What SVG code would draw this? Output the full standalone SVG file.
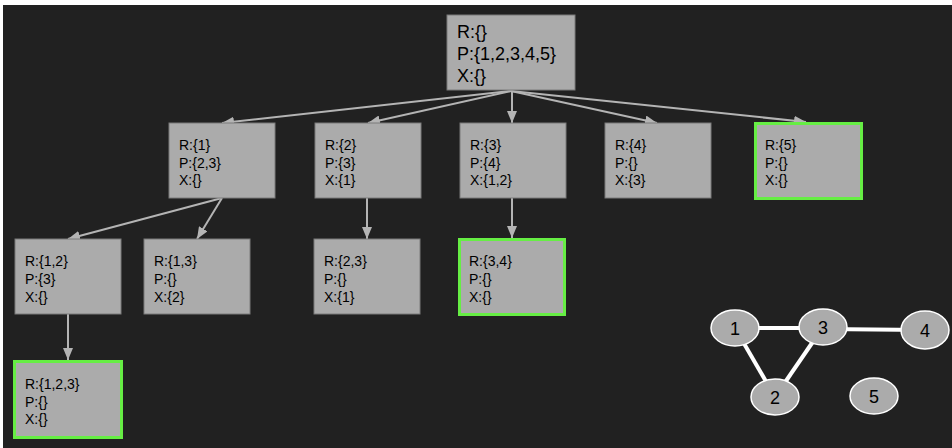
<svg xmlns="http://www.w3.org/2000/svg" width="952" height="448" viewBox="0 0 952 448">
  <style>
    .box { fill: #ababab; stroke: #7a7a7a; stroke-width: 1; }
    .hit { fill: #ababab; stroke: #66ee44; stroke-width: 3; }
    .t { font-family: "Liberation Sans", Arial, sans-serif; font-size: 14px; fill: #000; }
    .tr { font-family: "Liberation Sans", Arial, sans-serif; font-size: 18px; fill: #000; }
    .edge { stroke: #b4b4b4; stroke-width: 2; fill: none; marker-end: url(#arr); }
    .gedge { stroke: #ffffff; stroke-width: 4; }
    .gnode { fill: #ababab; stroke: #ffffff; stroke-width: 1.5; }
    .gl { font-family: "Liberation Sans", Arial, sans-serif; font-size: 18px; fill: #000; text-anchor: middle; }
  </style>
  <defs>
    <marker id="arr" markerUnits="userSpaceOnUse" markerWidth="12" markerHeight="10" refX="12" refY="5" orient="auto">
      <path d="M0,0 L12,5 L0,10 z" fill="#b4b4b4"/>
    </marker>
  </defs>
  <rect x="0" y="0" width="952" height="448" fill="#ffffff"/>
  <rect x="3" y="5" width="949" height="443" fill="#212121"/>

  <g id="connectors">
    <line class="edge" x1="511" y1="91" x2="222" y2="123"/>
    <line class="edge" x1="511" y1="91" x2="368" y2="123"/>
    <line class="edge" x1="512" y1="91" x2="512" y2="123"/>
    <line class="edge" x1="511" y1="91" x2="657" y2="123"/>
    <line class="edge" x1="511" y1="91" x2="806" y2="122"/>
    <line class="edge" x1="222" y1="198" x2="68" y2="239"/>
    <line class="edge" x1="222" y1="198" x2="197" y2="239"/>
    <line class="edge" x1="367" y1="198" x2="367" y2="239"/>
    <line class="edge" x1="512" y1="198" x2="512" y2="238"/>
    <line class="edge" x1="68" y1="314" x2="68" y2="360"/>
  </g>

  <g id="root">
    <rect class="box" x="447" y="15" width="128" height="75"/>
    <text class="tr" x="457" y="38">R:{}</text>
    <text class="tr" x="457" y="60">P:{1,2,3,4,5}</text>
    <text class="tr" x="457" y="82">X:{}</text>
  </g>

  <g id="n1">
    <rect class="box" x="169" y="123" width="106" height="75"/>
    <text class="t" x="179" y="150">R:{1}</text>
    <text class="t" x="179" y="167.5">P:{2,3}</text>
    <text class="t" x="179" y="185">X:{}</text>
  </g>
  <g id="n2">
    <rect class="box" x="315" y="123" width="106" height="75"/>
    <text class="t" x="325" y="150">R:{2}</text>
    <text class="t" x="325" y="167.5">P:{3}</text>
    <text class="t" x="325" y="185">X:{1}</text>
  </g>
  <g id="n3">
    <rect class="box" x="460" y="123" width="106" height="75"/>
    <text class="t" x="470" y="150">R:{3}</text>
    <text class="t" x="470" y="167.5">P:{4}</text>
    <text class="t" x="470" y="185">X:{1,2}</text>
  </g>
  <g id="n4">
    <rect class="box" x="605" y="123" width="106" height="75"/>
    <text class="t" x="615" y="150">R:{4}</text>
    <text class="t" x="615" y="167.5">P:{}</text>
    <text class="t" x="615" y="185">X:{3}</text>
  </g>
  <g id="n5">
    <rect class="hit" x="755.5" y="123.5" width="106" height="75"/>
    <text class="t" x="765" y="150">R:{5}</text>
    <text class="t" x="765" y="167.5">P:{}</text>
    <text class="t" x="765" y="185">X:{}</text>
  </g>

  <g id="n12">
    <rect class="box" x="15" y="239" width="106" height="75"/>
    <text class="t" x="25" y="266">R:{1,2}</text>
    <text class="t" x="25" y="284">P:{3}</text>
    <text class="t" x="25" y="302">X:{}</text>
  </g>
  <g id="n13">
    <rect class="box" x="144" y="239" width="106" height="75"/>
    <text class="t" x="154" y="266">R:{1,3}</text>
    <text class="t" x="154" y="284">P:{}</text>
    <text class="t" x="154" y="302">X:{2}</text>
  </g>
  <g id="n23">
    <rect class="box" x="314" y="239" width="106" height="75"/>
    <text class="t" x="324" y="266">R:{2,3}</text>
    <text class="t" x="324" y="284">P:{}</text>
    <text class="t" x="324" y="302">X:{1}</text>
  </g>
  <g id="n34">
    <rect class="hit" x="459.5" y="239.5" width="105" height="75"/>
    <text class="t" x="469" y="266">R:{3,4}</text>
    <text class="t" x="469" y="284">P:{}</text>
    <text class="t" x="469" y="302">X:{}</text>
  </g>

  <g id="n123">
    <rect class="hit" x="14.5" y="361.5" width="107" height="76"/>
    <text class="t" x="25" y="389">R:{1,2,3}</text>
    <text class="t" x="25" y="407">P:{}</text>
    <text class="t" x="25" y="424">X:{}</text>
  </g>

  <g id="graph-edges">
    <line class="gedge" x1="735" y1="328" x2="823" y2="328"/>
    <line class="gedge" x1="823" y1="329" x2="924" y2="330"/>
    <line class="gedge" x1="735" y1="328" x2="775" y2="397"/>
    <line class="gedge" x1="823" y1="327" x2="775" y2="397"/>
  </g>
  <g id="g1"><ellipse class="gnode" cx="735" cy="328" rx="24" ry="18"/><text class="gl" x="735" y="334.5">1</text></g>
  <g id="g3"><ellipse class="gnode" cx="823" cy="327" rx="24" ry="18"/><text class="gl" x="823" y="333.5">3</text></g>
  <g id="g4"><ellipse class="gnode" cx="925" cy="330" rx="24" ry="19"/><text class="gl" x="925" y="336.5">4</text></g>
  <g id="g2"><ellipse class="gnode" cx="775" cy="397" rx="24" ry="18"/><text class="gl" x="775" y="403.5">2</text></g>
  <g id="g5"><ellipse class="gnode" cx="874" cy="396" rx="24" ry="18"/><text class="gl" x="874" y="402.5">5</text></g>
</svg>
